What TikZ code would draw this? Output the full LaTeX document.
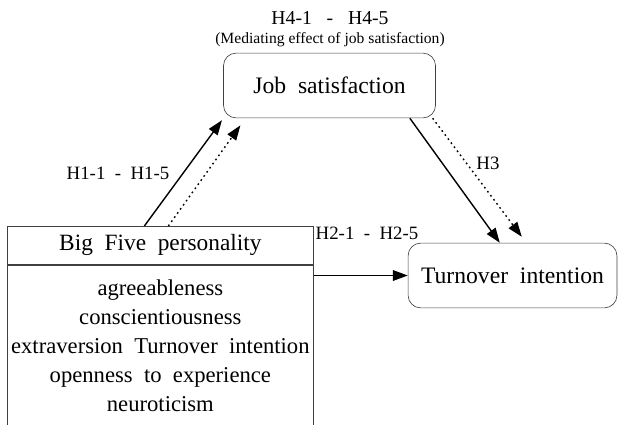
\documentclass[tikz,border=0pt]{standalone}
\usepackage{fontspec}
\setmainfont{Liberation Serif}
\usetikzlibrary{positioning,arrows.meta}

\tikzset{
  box/.style={draw=black!75, rounded corners=9pt, line width=0.45pt, align=center},
  arr/.style={line width=1pt, -{Triangle[length=10.5pt,width=7.5pt]}},
  darr/.style={arr, dash pattern=on 1.2pt off 2.4pt},
  lbl/.style={font=\fontsize{13.4}{15}\selectfont}
}

\begin{document}
\begin{tikzpicture}[x=0.025cm, y=-0.025cm]
            \useasboundingbox (0,0) rectangle (618,424);
            % boxes
            \node[box, minimum width=5.3cm, minimum height=1.62cm, font=\fontsize{16.8}{18}\selectfont] (job) at (329.5,85.5) {Job\ \ satisfaction};
            \node[box, minimum width=5.22cm, minimum height=1.62cm, font=\fontsize{16.8}{18}\selectfont] (turn) at (512.5,275.5) {Turnover\ \ intention};
            \node[draw=black!75, line width=0.45pt, minimum width=7.65cm, minimum height=0.95cm, anchor=north west, font=\fontsize{16.6}{18}\selectfont] (bighead) at (7,226) {Big\ \ Five\ \ personality};
            \node[draw=black!75, line width=0.45pt, minimum width=7.65cm, minimum height=4.05cm, anchor=north west, align=center, inner sep=0pt, font=\fontsize{16.1}{20.6}\selectfont] (biglist) at (bighead.south west) {
                agreeableness\\
                conscientiousness\\
                extraversion\ \ Turnover\ \ intention\\
                openness\ \ to\ \ experience\\
                neuroticism
            };
            % labels
            \node[font=\fontsize{14}{16}\selectfont] (h4) at (330,18) {H4-1\ \ \ -\ \ \ H4-5};
            \node[font=\fontsize{11.1}{13}\selectfont] (h4note) at (330,40) {(Mediating\ effect\ of\ job\ satisfaction)};
            \node[lbl] (h1) at (118,173) {H1-1\ \ -\ \ H1-5};
            \node[lbl] (h3) at (488,163) {H3};
            \node[lbl] (h2) at (367,233) {H2-1\ \ -\ \ H2-5};
            % paths
            \draw[arr] ([xshift=-0.4cm]bighead.north) -- ([xshift=-0.03cm,yshift=-0.05cm]job.south west);
            \draw[darr] ([xshift=0.2cm]bighead.north) -- ([xshift=0.43cm,yshift=-0.18cm]job.south west);
            \draw[arr] ([xshift=-0.65cm]job.south east) -- ([xshift=2.3cm]turn.north west);
            \draw[darr] ([xshift=-0.08cm]job.south east) -- ([xshift=2.85cm,yshift=0.15cm]turn.north west);
            \draw[arr] (biglist.east |- turn.west) -- (turn.west);
        \end{tikzpicture}
\end{document}
